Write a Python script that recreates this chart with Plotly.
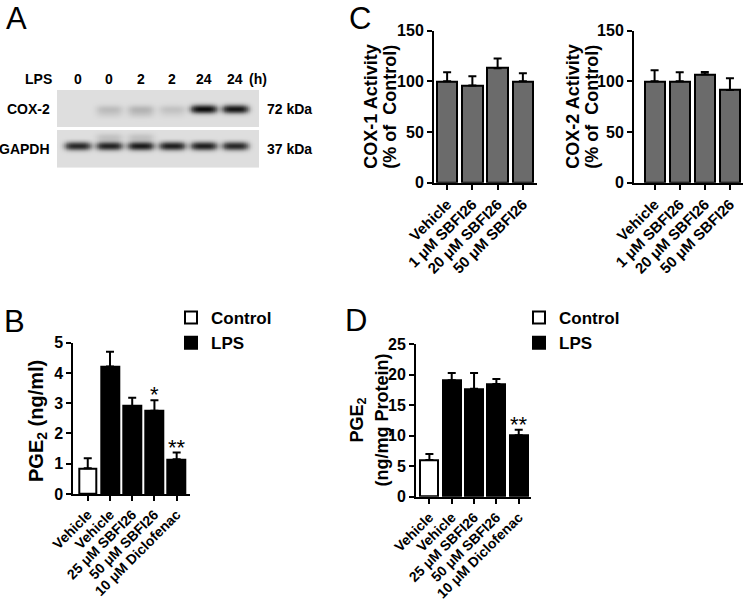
import numpy as np
import plotly.graph_objects as go

# ---------------- data ----------------
# Panel A (western blot, relative band intensities per lane)
lane_hours = ["0", "0", "2", "2", "24", "24"]
cox2_band = [0.0, 0.13, 0.16, 0.11, 1.0, 0.95]
cox2_faint_lower = [0.0, 0.06, 0.08, 0.04, 0.0, 0.0]
gapdh_band = [0.85, 0.88, 0.92, 0.90, 0.90, 0.85]
gapdh_faint_upper = [0.0, 0.12, 0.12, 0.0, 0.0, 0.0]
blot_rows = ["GAPDH", "COX-2"]
blot_sizes = ["37 kDa", "72 kDa"]

# Panel C
c_labels = ["Vehicle", "1 μM SBFI26", "20 μM SBFI26", "50 μM SBFI26"]
cox1_act = [100, 96, 113, 100]
cox1_err = [9, 9, 9.5, 8]
cox2_act = [100, 100, 107, 91.5]
cox2_err = [11, 9, 2.3, 11.5]

# Panels B and D
bd_labels = ["Vehicle", "Vehicle", "25 μM SBFI26", "50 μM SBFI26", "10 μM Diclofenac"]
bd_group = ["Control", "LPS", "LPS", "LPS", "LPS"]
b_pge2 = [0.85, 4.21, 2.91, 2.75, 1.15]
b_err = [0.33, 0.49, 0.27, 0.35, 0.22]
b_sig = ["", "", "", "*", "**"]
d_pge2 = [6.0, 19.1, 17.7, 18.5, 10.1]
d_err = [1.0, 1.2, 2.6, 0.8, 0.9]
d_sig = ["", "", "", "", "**"]

# ---------------- helpers ----------------
W, H = 745, 602
FONT = "Liberation Sans, Arial, Helvetica, sans-serif"


def fx(p):
    return p / W


def fy(p):
    return 1 - p / H


fig = go.Figure()

# ---------------- Panel A: blot heatmap ----------------
xs = np.linspace(-0.67, 5.76, 320)
ys = np.linspace(-0.47, 1.46, 160)
X, Y = np.meshgrid(xs, ys)
Z = np.zeros_like(X)


def band(lane, row, amp, dy, wx=0.42, wy=0.1):
    return amp * np.exp(-np.abs((X - lane) / wx) ** 4) * np.exp(-((Y - row - dy) / wy) ** 2)


for i in range(len(lane_hours)):
    Z += band(i, 1, cox2_band[i], -0.02)
    Z += band(i, 1, cox2_faint_lower[i], -0.14)
    Z += band(i, 0, gapdh_band[i], 0.06)
    Z += band(i, 0, gapdh_faint_upper[i], 0.28)
Z = np.clip(Z, 0, 1)
Z[(Y > 0.464) & (Y < 0.546)] = np.nan

fig.add_trace(go.Heatmap(x=xs, y=ys, z=Z, xaxis="x5", yaxis="y5",
                         colorscale=[[0, "#dedede"], [0.5, "#6a6a6a"], [1, "#0c0c0c"]],
                         zmin=0, zmax=1, showscale=False, hoverinfo="skip"))

# ---------------- Panel C bars ----------------
err_style = dict(type="data", symmetric=False, color="black", thickness=2, width=4)
cx = list(range(len(c_labels)))
fig.add_trace(go.Bar(x=cx, y=cox1_act, xaxis="x", yaxis="y", width=0.82,
                     marker=dict(color="#6b6b6b", line=dict(color="black", width=2)),
                     error_y=dict(array=cox1_err, arrayminus=[0] * len(cx), **err_style),
                     showlegend=False))
fig.add_trace(go.Bar(x=cx, y=cox2_act, xaxis="x2", yaxis="y2", width=0.8,
                     marker=dict(color="#6b6b6b", line=dict(color="black", width=2)),
                     error_y=dict(array=cox2_err, arrayminus=[0] * len(cx), **err_style),
                     showlegend=False))

# ---------------- Panels B, D bars ----------------
group_colors = {"Control": "white", "LPS": "black"}
for vals, errs, xa, ya, leg in [(b_pge2, b_err, "x3", "y3", "legend"),
                                (d_pge2, d_err, "x4", "y4", "legend2")]:
    for g in ["Control", "LPS"]:
        idx = [i for i, gg in enumerate(bd_group) if gg == g]
        fig.add_trace(go.Bar(x=idx, y=[vals[i] for i in idx], xaxis=xa, yaxis=ya,
                             name=g, legend=leg, width=0.8,
                             marker=dict(color=group_colors[g], line=dict(color="black", width=2)),
                             error_y=dict(array=[errs[i] for i in idx],
                                          arrayminus=[0] * len(idx), **err_style)))

# ---------------- axes ----------------
tickfont = dict(family=FONT, size=16, color="black", weight="bold")


def xax(domain, rng, labels, anchor, fsize=15):
    return dict(domain=domain, range=rng, anchor=anchor, tickmode="array",
                tickvals=list(range(len(labels))), ticktext=labels, tickangle=-45,
                showline=True, linecolor="black", linewidth=2, ticks="outside",
                ticklen=5, tickwidth=2, tickcolor="black",
                tickfont=dict(family=FONT, size=fsize, color="black", weight="bold"),
                showgrid=False, zeroline=False, fixedrange=True, automargin=False)


def yax(domain, rng, dtick, anchor):
    return dict(domain=domain, range=rng, dtick=dtick, anchor=anchor,
                showline=True, linecolor="black", linewidth=2, ticks="outside",
                ticklen=5, tickwidth=2, tickcolor="black", tickfont=tickfont,
                showgrid=False, zeroline=False, fixedrange=True, automargin=False)


layout = dict(
    template="none",
    width=W, height=H, margin=dict(l=0, r=0, t=0, b=0, autoexpand=False),
    paper_bgcolor="white", plot_bgcolor="rgba(0,0,0,0)",
    barmode="overlay", bargap=0,
    xaxis=xax([fx(434), fx(537)], [-0.52, 3.56], c_labels, "y"),
    yaxis=yax([fy(182.7), fy(30.7)], [0, 150], 50, "x"),
    xaxis2=xax([fx(634), fx(743)], [-0.82, 3.52], c_labels, "y2"),
    yaxis2=yax([fy(182.7), fy(30.7)], [0, 150], 50, "x2"),
    xaxis3=xax([fx(73.3), fx(190)], [-0.65, 4.6], bd_labels, "y3", 14),
    yaxis3=yax([fy(494), fy(342.7)], [0, 5], 1, "x3"),
    xaxis4=xax([fx(416), fx(531)], [-0.6, 4.55], bd_labels, "y4", 14),
    yaxis4=yax([fy(496.7), fy(344.3)], [0, 25], 5, "x4"),
    xaxis5=dict(domain=[fx(57), fx(259)], range=[-0.67, 5.76], anchor="y5",
                visible=False, fixedrange=True, automargin=False),
    yaxis5=dict(domain=[fy(167.7), fy(90)], range=[-0.47, 1.46], anchor="x5",
                visible=False, fixedrange=True, automargin=False),
    legend=dict(x=fx(171), y=fy(300), xanchor="left", yanchor="top",
                font=dict(family=FONT, size=17, color="black", weight="bold"),
                bgcolor="rgba(0,0,0,0)", tracegroupgap=0, itemclick=False),
    legend2=dict(x=fx(519), y=fy(300), xanchor="left", yanchor="top",
                 font=dict(family=FONT, size=17, color="black", weight="bold"),
                 bgcolor="rgba(0,0,0,0)", tracegroupgap=0, itemclick=False),
    showlegend=True,
)

annotations = []


def ann(text, x, y, size=18, angle=0, xanchor="center", yanchor="middle",
        xref="paper", yref="paper", weight="bold", **kw):
    annotations.append(dict(text=text, x=x, y=y, xref=xref, yref=yref,
                            xanchor=xanchor, yanchor=yanchor, textangle=angle,
                            showarrow=False,
                            font=dict(family=FONT, color="black", size=size, weight=weight),
                            **kw))


# panel letters
for letter, px_, py_ in [("A", 16, 0), ("B", 15, 303), ("C", 360, 0), ("D", 356, 302)]:
    ann(letter, fx(px_), fy(py_), size=31, weight="normal", yanchor="top", borderpad=0)

# y titles
ann("COX-1 Activity", fx(371), fy(106.7), angle=-90)
ann("(% of\u00a0 Control)", fx(390), fy(106.7), angle=-90)
ann("COX-2 Activity", fx(573), fy(106.7), angle=-90)
ann("(% of\u00a0 Control)", fx(592), fy(106.7), angle=-90)
ann("PGE<sub>2</sub> (ng/ml)", fx(37), fy(421), angle=-90, size=20)
ann("PGE<sub>2</sub>", fx(358), fy(420.5), angle=-90)
ann("(ng/mg Protein)", fx(381), fy(420.5), angle=-90)

# significance stars
for vals, errs, sig, xa, ya in [(b_pge2, b_err, b_sig, "x3", "y3"),
                                (d_pge2, d_err, d_sig, "x4", "y4")]:
    for i, s in enumerate(sig):
        if s:
            ann(s, i, vals[i] + errs[i], size=22, yanchor="bottom", xref=xa, yref=ya,
                weight="normal", yshift=-9)

# blot labels
ann("LPS", fx(38), fy(79), size=14)
for i, h in enumerate(lane_hours):
    ann(h, i, fy(79), size=14, xref="x5")
ann("(h)", fx(258), fy(79), size=14)
for r, (name, size) in enumerate(zip(blot_rows, blot_sizes)):
    ann(name, fx(51), r, size=14, xanchor="right", yref="y5", borderpad=0)
    ann(size, fx(265), r, size=14, xanchor="left", yref="y5")

layout["annotations"] = annotations
fig.update_layout(**layout)
fig.write_html("out.html", config={"displayModeBar": False},
               post_script="document.body.style.margin='0';document.body.style.overflow='hidden';")
